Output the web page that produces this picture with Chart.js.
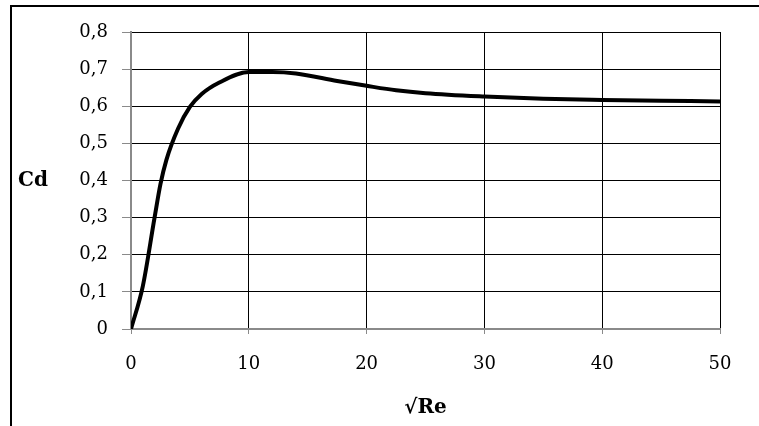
<!DOCTYPE html>
<html>
<head>
<meta charset="utf-8">
<script src="https://cdn.jsdelivr.net/npm/chart.js@4/dist/chart.umd.min.js"></script>
<style>
    html, body { margin: 0; padding: 0; background: #fff; }
    #wrap { position: relative; width: 759px; height: 426px; }
</style>
</head>
<body>
<div id="wrap"><canvas id="cdChart" width="759" height="426"></canvas></div>
<script>
// Cd against sqrt(Re)
const sqrtRe = [0, 1, 2, 2.5, 3, 4, 5, 6, 7.5, 10, 12, 14, 17.5, 20, 22.5, 25, 30, 35, 40, 45, 50];
const cd = [0, 0.115, 0.30, 0.39, 0.455, 0.54, 0.598, 0.633, 0.664, 0.692, 0.692, 0.688, 0.668, 0.655, 0.643, 0.635, 0.626, 0.62, 0.617, 0.615, 0.613];

const xTicks = [0, 10, 20, 30, 40, 50];
const yTicks = [0, 0.1, 0.2, 0.3, 0.4, 0.5, 0.6, 0.7, 0.8];

const xTitle = '\u221ARe';
const yTitle = 'Cd';

const labelFont = { family: '"DejaVu Serif", serif', size: 18 };
const titleFont = 'bold 20px "DejaVu Serif", serif';

// frame lines and the two axis titles
const extras = {
    id: 'extras',
    beforeDraw(chart) {
        const ctx = chart.ctx;
        ctx.save();
        ctx.fillStyle = '#000';
        ctx.fillRect(10, 5, 749, 2);
        ctx.fillRect(10, 5, 2, 421);
        ctx.restore();
    },
    afterDraw(chart) {
        const { ctx, chartArea } = chart;
        ctx.save();
        ctx.fillStyle = '#000';
        ctx.font = titleFont;
        ctx.textBaseline = 'middle';
        ctx.textAlign = 'center';
        ctx.fillText(xTitle, (chartArea.left + chartArea.right) / 2, 408);
        ctx.fillText(yTitle, 33, (chartArea.top + chartArea.bottom) / 2);
        ctx.restore();
    }
};

const fmt = (v) => v === 0 ? '0' : v.toFixed(1).replace('.', ',');

new Chart(document.getElementById('cdChart'), {
    type: 'line',
    data: {
        datasets: [{
            data: sqrtRe.map((x, i) => ({ x: x, y: cd[i] })),
            borderColor: '#000',
            borderWidth: 4,
            borderCapStyle: 'round',
            pointRadius: 0,
            cubicInterpolationMode: 'monotone',
            fill: false
        }]
    },
    options: {
        responsive: false,
        animation: false,
        layout: { padding: { left: 0, right: 39, top: 32, bottom: 0 } },
        plugins: {
            legend: { display: false },
            tooltip: { enabled: false }
        },
        scales: {
            x: {
                type: 'linear',
                min: xTicks[0],
                max: xTicks[xTicks.length - 1],
                afterFit: (s) => { s.height = 97; },
                afterBuildTicks: (s) => { s.ticks = xTicks.map(v => ({ value: v })); },
                grid: { color: '#000', lineWidth: 1, tickLength: 5, tickColor: '#8a8a8a' },
                border: { color: '#8a8a8a', width: 2 },
                ticks: { color: '#000', font: labelFont, padding: 20, maxRotation: 0, callback: (v) => String(v) }
            },
            y: {
                min: yTicks[0],
                max: yTicks[yTicks.length - 1],
                afterFit: (s) => { s.width = 131; },
                afterBuildTicks: (s) => { s.ticks = yTicks.map(v => ({ value: v })); },
                grid: { color: '#000', lineWidth: 1, tickLength: 9, tickColor: '#8a8a8a' },
                border: { color: '#8a8a8a', width: 2 },
                ticks: { color: '#000', font: labelFont, padding: 14, callback: (v) => fmt(v) }
            }
        }
    },
    plugins: [extras]
});
</script>
</body>
</html>
